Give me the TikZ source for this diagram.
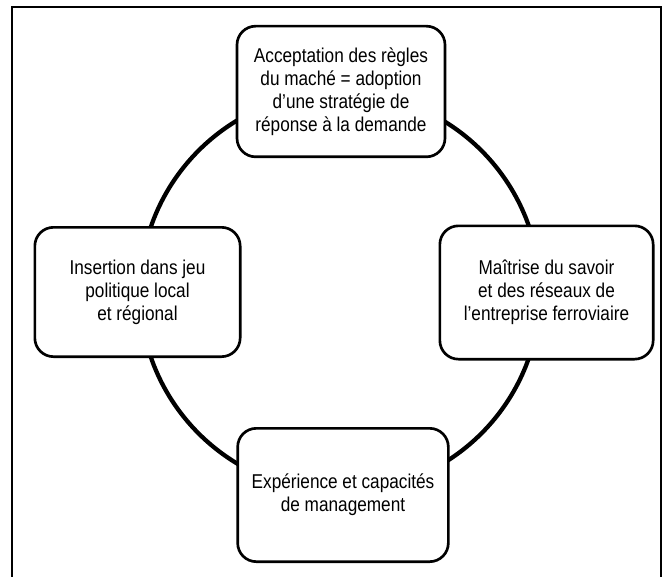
\documentclass[tikz,border=0pt]{standalone}
\usepackage{fontspec}
\setmainfont{Liberation Sans}[FakeStretch=0.86]
\begin{document}
\begin{tikzpicture}[x=0.75pt,y=-0.75pt,
  box/.style={draw=black, line width=2pt, rounded corners=14pt, fill=white, align=center,
    font=\fontsize{15pt}{17.3pt}\selectfont, inner sep=0pt},
  ring/.style={draw=black, line width=3.2pt},
  frame/.style={draw=black, line width=1pt}]
\useasboundingbox (0,0) rectangle (670,577);
\draw[frame] (12,578) -- (12,7) -- (661,7) -- (661,578);
\coordinate (c) at (340,292);
\draw[ring] (c) circle[radius=150pt];
\node[box, minimum width=156pt, minimum height=98pt] (top) at (341,91.5)
  {Acceptation des règles\\du maché = adoption\\d’une stratégie de\\réponse à la demande};
\node[box, minimum width=154pt, minimum height=97pt] (left) at (137.5,292)
  {Insertion dans jeu\\politique local\\et régional};
\node[box, minimum width=160pt, minimum height=100pt] (right) at (546.5,292.5)
  {Maîtrise du savoir\\et des réseaux de\\l’entreprise ferroviaire};
\node[box, minimum width=158pt, minimum height=100pt] (bottom) at (343,495)
  {Expérience et capacités\\de management};
\end{tikzpicture}
\end{document}
